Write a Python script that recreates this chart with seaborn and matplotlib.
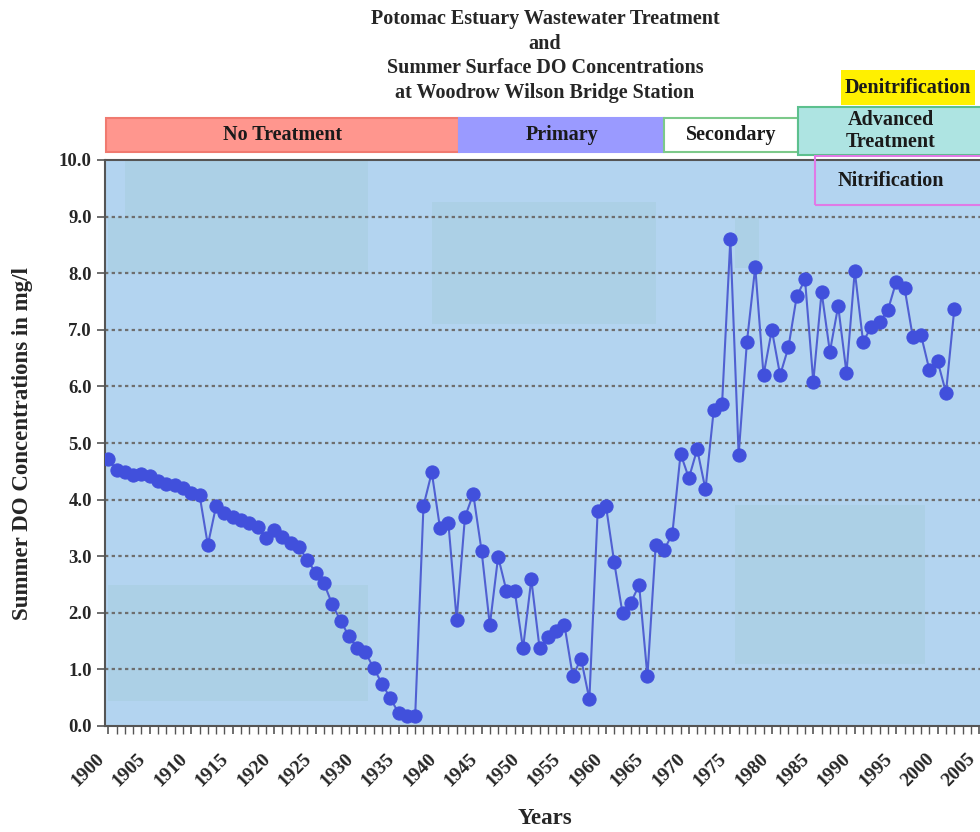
import numpy as np
import pandas as pd
import seaborn as sns
import matplotlib.pyplot as plt
from matplotlib.patches import Rectangle
import matplotlib.transforms as mtransforms

years = list(range(1900, 2003))
do_mgl = [
    4.72, 4.52, 4.48, 4.43, 4.45, 4.42, 4.33, 4.28, 4.26, 4.20,
    4.11, 4.08, 3.20, 3.89, 3.77, 3.69, 3.64, 3.58, 3.51, 3.33,
    3.46, 3.34, 3.23, 3.16, 2.93, 2.71, 2.52, 2.15, 1.86, 1.59,
    1.38, 1.30, 1.02, 0.75, 0.49, 0.23, 0.18, 0.18, 3.89, 4.48,
    3.49, 3.59, 1.88, 3.69, 4.10, 3.10, 1.78, 2.99, 2.39, 2.39,
    1.37, 2.59, 1.37, 1.58, 1.68, 1.78, 0.88, 1.19, 0.47, 3.79,
    3.89, 2.89, 1.99, 2.18, 2.49, 0.88, 3.20, 3.11, 3.39, 4.81,
    4.38, 4.89, 4.18, 5.59, 5.69, 8.60, 4.79, 6.79, 8.11, 6.20,
    7.00, 6.20, 6.69, 7.59, 7.89, 6.08, 7.67, 6.61, 7.42, 6.24,
    8.04, 6.79, 7.05, 7.14, 7.35, 7.85, 7.74, 6.87, 6.90, 6.29,
    6.44, 5.89, 7.36,
]

# treatment phases along the top
phase_names = ["No Treatment", "Primary", "Secondary", "Advanced\nTreatment"]
phase_start = [1899.75, 1942.3, 1967.0, 1983.2]
phase_end = [1942.3, 1967.0, 1983.2, 2006.0]
phase_fill = ["#ff968e", "#9a9aff", "#ffffff", "#aee4e2"]
phase_edge = ["#f07a70", "#9a9aff", "#7cc98a", "#5cc08e"]

df = pd.DataFrame({"Year": years, "DO": do_mgl})

serif = ["Liberation Serif", "DejaVu Serif"]
sns.set_style("ticks")
plt.rcParams["font.family"] = serif
plt.rcParams["font.weight"] = "bold"

fig = plt.figure(figsize=(9.8, 8.32), dpi=100)
ax = fig.add_axes([105 / 980, 106 / 832, 875 / 980, 566 / 832])
ax.set_facecolor("#b3d4f0")

# faint patches in the plot area
for x0, x1, y0, y1 in [(1902, 1931.3, 8.0, 10.0), (1900, 1902, 8.0, 9.0),
                       (1939, 1966, 7.1, 9.25), (1900, 1931.3, 0.45, 2.5),
                       (1975.5, 1998.5, 1.1, 3.9), (1975.5, 1978.5, 8.1, 9.0)]:
    ax.add_patch(Rectangle((x0, y0), x1 - x0, y1 - y0, facecolor="#acd0e6",
                           edgecolor="none", zorder=0.5))

for yv in range(1, 10):
    ax.axhline(yv, color="#6e6e6e", lw=1.6, ls=(0, (1.5, 1.5)), zorder=1)

sns.lineplot(data=df, x="Year", y="DO", ax=ax, color="#5060d2", lw=1.5,
             marker="o", markersize=9.5, markerfacecolor="#4150dc",
             markeredgecolor="#4150dc", zorder=3)

ax.set_xlim(1899.6, 2005.1)
ax.set_ylim(0, 10)
ax.tick_params(axis="x", which="major", length=6, width=1.2, color="#555555")
ax.tick_params(axis="x", which="minor", length=6, width=1.0, color="#555555")
ax.tick_params(axis="y", length=6, width=1.2, color="#555555")
ax.set_yticks(np.arange(0, 10.1, 1.0))
ax.set_yticklabels([f"{v:.1f}" for v in np.arange(0, 10.1, 1.0)],
                   fontsize=13.5, fontweight="bold")
ax.set_xticks(range(1900, 2006, 5))
ax.set_xticks(range(1900, 2006), minor=True)
ax.set_xticklabels([str(y) for y in range(1900, 2006, 5)], rotation=45,
                   ha="right", rotation_mode="anchor", fontsize=14,
                   fontweight="bold")
shift = mtransforms.ScaledTranslation(-9 / 72, -8 / 72, fig.dpi_scale_trans)
for lab in ax.get_xticklabels():
    lab.set_transform(lab.get_transform() + shift)

for side in ["top", "right"]:
    ax.spines[side].set_visible(False)
ax.spines["left"].set_color("#555555")
ax.spines["bottom"].set_color("#555555")
ax.spines["left"].set_linewidth(1.5)
ax.spines["bottom"].set_linewidth(1.5)
ax.axhline(10, color="#555555", lw=1.5, zorder=2, clip_on=False)

ax.set_xlabel("Years", fontsize=16.5, fontweight="bold")
ax.xaxis.set_label_coords(0.503, -0.145)
ax.set_ylabel("Summer DO Concentrations in mg/l", fontsize=16.5,
              fontweight="bold")
ax.yaxis.set_label_coords(-0.094, 0.5)
ax.yaxis.label.set_va("center")

trans = mtransforms.blended_transform_factory(ax.transData, ax.transAxes)
for i, name in enumerate(phase_names):
    y0, y1 = (1.014, 1.074) if i < 3 else (1.009, 1.094)
    ax.add_patch(Rectangle((phase_start[i], y0), phase_end[i] - phase_start[i],
                           y1 - y0, transform=trans, clip_on=False,
                           facecolor=phase_fill[i], edgecolor=phase_edge[i],
                           lw=1.5, zorder=4))
    ax.text((phase_start[i] + phase_end[i]) / 2 if i < 3 else 1994.3,
            (y0 + y1) / 2, name, transform=trans, ha="center", va="center",
            fontsize=14.5, fontweight="bold", color="#1a1a1a", zorder=5,
            linespacing=1.1)

ax.add_patch(Rectangle((1988.3, 1.097), 16.2, 0.062, transform=trans,
                       clip_on=False, facecolor="#fff000", edgecolor="none",
                       zorder=4))
ax.text(1996.4, 1.128, "Denitrification", transform=trans, ha="center",
        va="center", fontsize=14.5, fontweight="bold", color="#1a1a1a",
        zorder=5)

ax.add_patch(Rectangle((1985.2, 0.920), 22, 0.087, transform=trans,
                       clip_on=False, facecolor="none", edgecolor="#e07ae6",
                       lw=1.5, zorder=4))
ax.text(1994.4, 0.963, "Nitrification", transform=trans, ha="center",
        va="center", fontsize=14.5, fontweight="bold", color="#1a1a1a",
        zorder=5)

fig.text(545 / 980, 1 - 56 / 832,
         "Potomac Estuary Wastewater Treatment\nand\n"
         "Summer Surface DO Concentrations\nat Woodrow Wilson Bridge Station",
         ha="center", va="center", fontsize=14.5, fontweight="bold",
         linespacing=1.32)

fig.savefig("out.png", dpi=100)
